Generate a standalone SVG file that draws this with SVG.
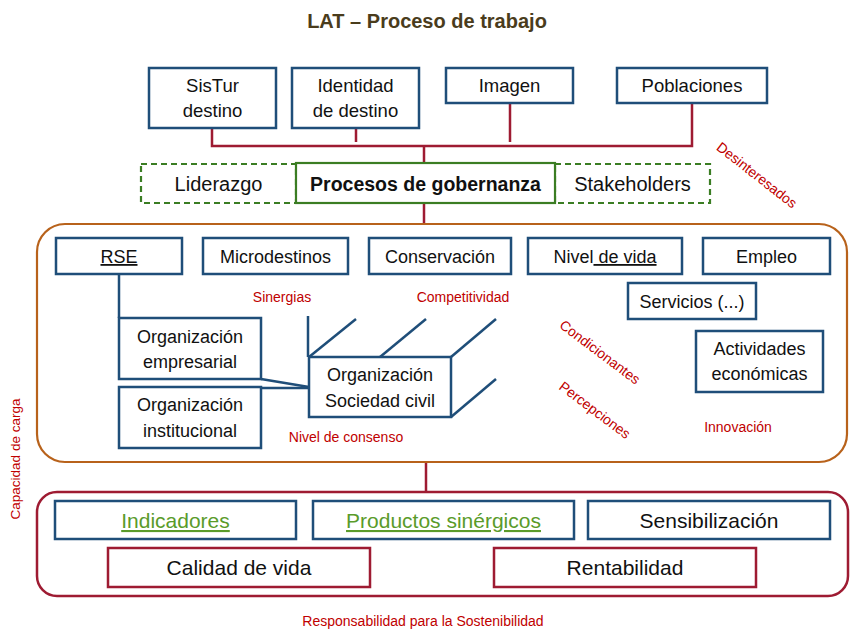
<svg xmlns="http://www.w3.org/2000/svg" width="850" height="633" viewBox="0 0 850 633">
<style>
text{font-family:"Liberation Sans",Arial,sans-serif;fill:#111;text-anchor:middle}
.b{fill:#fff;stroke:#1f4e79;stroke-width:2.5}
.r{fill:#fff;stroke:#9e1b32;stroke-width:2.5}
.g{fill:#fff;stroke:#3b7d23;stroke-width:2.2}
.gd{fill:#fff;stroke:#3b7d23;stroke-width:2.2;stroke-dasharray:6 4}
.t18{font-size:18px}
.t185{font-size:18.5px}
.t20{font-size:20px}
.t21{font-size:21px}
.lab{font-size:14px;fill:#c00000}
.rl{stroke:#9e1b32;stroke-width:2.5;fill:none}
.bl{stroke:#1f4e79;stroke-width:2.5;fill:none}
.u{text-decoration:underline}
.gr{fill:#5a9b2a}
</style>
<text x="427" y="28" style="font-size:20px;font-weight:bold;fill:#4a3c1c">LAT – Proceso de trabajo</text>

<g id="connectors">
<polyline class="rl" points="212,128 212,146 692,146 692,103"/>
<line class="rl" x1="356" y1="128" x2="356" y2="142"/>
<line class="rl" x1="510" y1="103" x2="510" y2="142"/>
<line class="rl" x1="424" y1="146" x2="424" y2="224"/>
<line class="rl" x1="426" y1="462" x2="426" y2="492"/>
<polyline class="bl" points="119,274 119,318"/>
<line class="bl" x1="261" y1="379" x2="309" y2="387"/>
<line class="bl" x1="261" y1="388" x2="309" y2="388"/>
<line class="bl" x1="308" y1="316" x2="308" y2="357"/>
<line class="bl" x1="309" y1="357" x2="356" y2="319"/>
<line class="bl" x1="380" y1="357" x2="426" y2="319"/>
<line class="bl" x1="451" y1="357" x2="496" y2="319"/>
<line class="bl" x1="451" y1="417" x2="496" y2="379"/>
</g>

<g id="frame-middle"><rect x="37" y="224" width="810" height="238" rx="28" fill="none" stroke="#b8621b" stroke-width="2.2"/></g>
<g id="frame-bottom"><rect x="37" y="492" width="811" height="104" rx="20" fill="none" stroke="#9e1b32" stroke-width="2.5"/></g>

<g id="sistur"><rect class="b" x="149" y="68" width="127" height="60"/><text class="t185" x="212.5" y="92">SisTur</text><text class="t185" x="212.5" y="117">destino</text></g>
<g id="identidad"><rect class="b" x="292" y="68" width="127" height="60"/><text class="t185" x="355.5" y="92">Identidad</text><text class="t185" x="355.5" y="117">de destino</text></g>
<g id="imagen"><rect class="b" x="446" y="68" width="127" height="35"/><text class="t185" x="509.5" y="92">Imagen</text></g>
<g id="poblaciones"><rect class="b" x="617" y="68" width="150" height="35"/><text class="t185" x="692" y="92">Poblaciones</text></g>

<g id="liderazgo"><rect class="gd" x="141" y="164" width="155" height="39"/><text class="t20" x="218.5" y="191">Liderazgo</text></g>
<g id="stakeholders"><rect class="gd" x="555" y="164" width="155" height="39"/><text class="t20" x="632.5" y="191">Stakeholders</text></g>
<g id="gobernanza"><rect class="g" x="296" y="163" width="259" height="40"/><text x="425.5" y="191" style="font-size:19.5px;font-weight:bold">Procesos de gobernanza</text></g>

<g id="rse"><rect class="b" x="56" y="238" width="126" height="36"/><text class="t18 u" x="119" y="263">RSE</text></g>
<g id="microdestinos"><rect class="b" x="203" y="238" width="145" height="36"/><text class="t18" x="275.5" y="263">Microdestinos</text></g>
<g id="conservacion"><rect class="b" x="369" y="238" width="142" height="36"/><text class="t18" x="440" y="263">Conservación</text></g>
<g id="nivel-vida"><rect class="b" x="528" y="238" width="154" height="36"/><text class="t18" x="605" y="263">Nivel<tspan class="u"> de vida</tspan></text></g>
<g id="empleo"><rect class="b" x="703" y="238" width="127" height="36"/><text class="t18" x="766.5" y="263">Empleo</text></g>
<g id="servicios"><rect class="b" x="628" y="283" width="128" height="36"/><text class="t18" x="692" y="308">Servicios (...)</text></g>
<g id="actividades"><rect class="b" x="696" y="331" width="127" height="61"/><text class="t18" x="759.5" y="355">Actividades</text><text class="t18" x="759.5" y="380">económicas</text></g>
<g id="org-empresarial"><rect class="b" x="119" y="318" width="142" height="61"/><text class="t18" x="190" y="343">Organización</text><text class="t18" x="190" y="368">empresarial</text></g>
<g id="org-institucional"><rect class="b" x="119" y="387" width="142" height="61"/><text class="t18" x="190" y="411">Organización</text><text class="t18" x="190" y="437">institucional</text></g>
<g id="org-sociedad"><rect class="b" x="309" y="357" width="142" height="60"/><text class="t18" x="380" y="381">Organización</text><text class="t18" x="380" y="407">Sociedad civil</text></g>

<g id="indicadores"><rect class="b" x="55" y="501" width="241" height="38"/><text class="t21 u gr" x="175.5" y="528">Indicadores</text></g>
<g id="productos"><rect class="b" x="313" y="501" width="261" height="38"/><text class="t21 u gr" x="443.5" y="528">Productos sinérgicos</text></g>
<g id="sensibilizacion"><rect class="b" x="588" y="501" width="242" height="38"/><text class="t21" x="709" y="528">Sensibilización</text></g>
<g id="calidad"><rect class="r" x="108" y="548" width="262" height="39"/><text class="t21" x="239" y="575">Calidad de vida</text></g>
<g id="rentabilidad"><rect class="r" x="494" y="548" width="262" height="39"/><text class="t21" x="625" y="575">Rentabilidad</text></g>

<g id="labels">
<text class="lab" x="282" y="302">Sinergias</text>
<text class="lab" x="463" y="302">Competitividad</text>
<text class="lab" x="346" y="442">Nivel de consenso</text>
<text class="lab" x="738" y="432">Innovación</text>
<text class="lab" transform="translate(600,352) rotate(37)" y="5">Condicionantes</text>
<text class="lab" transform="translate(595,410) rotate(37)" y="5">Percepciones</text>
<text class="lab" transform="translate(757,175) rotate(38)" y="5">Desinteresados</text>
<text class="lab" transform="translate(15,459) rotate(-90)" y="5" style="font-size:13.5px">Capacidad de carga</text>
<text class="lab" x="423" y="626">Responsabilidad para la Sostenibilidad</text>
</g>
</svg>
